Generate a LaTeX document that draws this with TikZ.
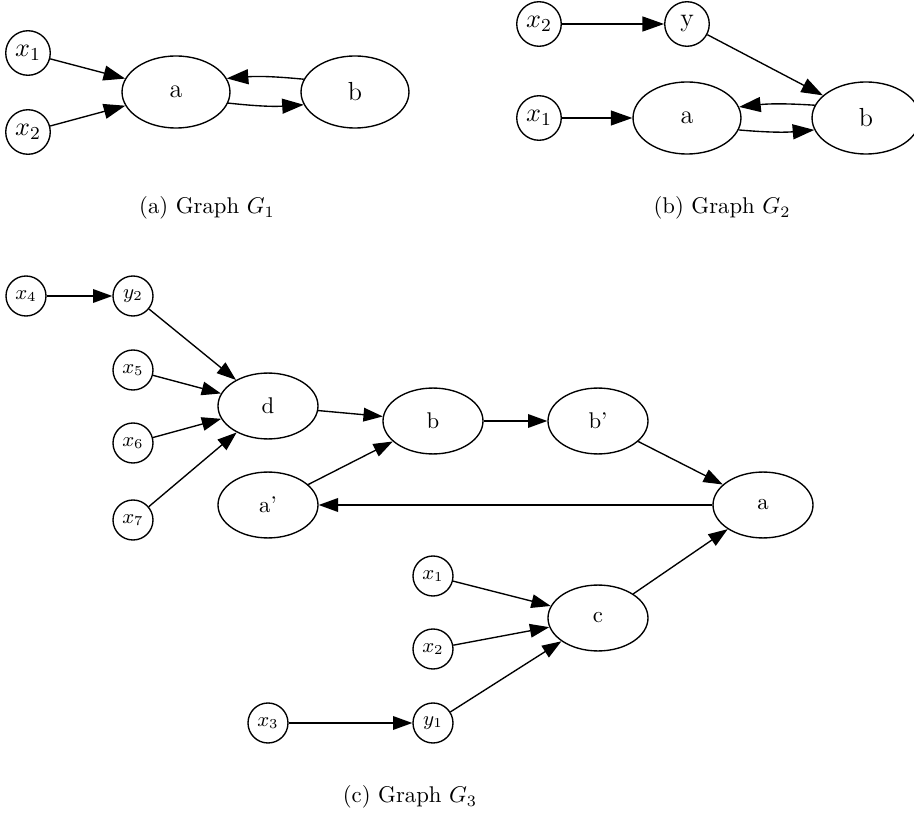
\documentclass[tikz,border=0pt]{standalone}
\usepackage{fix-cm}
\usepackage{fontspec}
\usetikzlibrary{arrows.meta,shapes.geometric}
\begin{document}
\begin{tikzpicture}[x=0.44pt,y=-0.44pt, line width=0.6pt,
  >={Triangle[length=8.5pt,width=6pt]},
  bigarrow/.style={-{Triangle[length=9.5pt,width=6.6pt]}},
  bigc/.style={circle,draw,minimum size=19.6pt,inner sep=0pt,font=\fontsize{11.5}{13}\selectfont},
  bige/.style={ellipse,draw,minimum width=47.5pt,minimum height=31.7pt,inner sep=0pt,font=\fontsize{11.5}{13}\selectfont},
  smc/.style={circle,draw,minimum size=17.6pt,inner sep=0pt,font=\fontsize{9}{11}\selectfont},
  sme/.style={ellipse,draw,minimum width=44pt,minimum height=29pt,inner sep=0pt,font=\fontsize{10}{12}\selectfont},
  captext/.style={font=\fontsize{10}{12}\selectfont}]
\useasboundingbox (0,0) rectangle (914,815);
% ---------- G1 ----------
\node[bigc] (g1x1) at (28,53) {$x_1$};
\node[bigc] (g1x2) at (28,132) {$x_2$};
\node[bige] (g1a) at (176,92) {a};
\node[bige] (g1b) at (355,92) {b};
\draw[bigarrow] (g1x1) -- (g1a);
\draw[bigarrow] (g1x2) -- (g1a);
\draw[bigarrow] (g1b.166) to[bend right=5] (g1a.15);
\draw[bigarrow] (g1a.-12) to[bend right=5] (g1b.194);
\node[captext] (capa) at (207,208) {(a) Graph $G_1$};
% ---------- G2 ----------
\node[bigc] (g2x2) at (539,24) {$x_2$};
\node[bigc] (g2y) at (687,24) {y};
\node[bigc] (g2x1) at (539,118) {$x_1$};
\node[bige] (g2a) at (687,118) {a};
\node[bige] (g2b) at (866,118) {b};
\draw[bigarrow] (g2x2) -- (g2y);
\draw[bigarrow] (g2y) -- (g2b);
\draw[bigarrow] (g2x1) -- (g2a);
\draw[bigarrow] (g2b.166) to[bend right=5] (g2a.12);
\draw[bigarrow] (g2a.-13) to[bend right=5] (g2b.193);
\node[captext] (capb) at (722,208) {(b) Graph $G_2$};
% ---------- G3 ----------
\node[smc] (x4) at (26,296) {$x_4$};
\node[smc] (y2) at (133,296) {$y_2$};
\node[smc] (x5) at (133,370) {$x_5$};
\node[smc] (x6) at (133,443) {$x_6$};
\node[smc] (x7) at (133,520) {$x_7$};
\node[sme] (d) at (268,406) {d};
\node[sme] (ap) at (268,505) {a'};
\node[sme] (b) at (433,421) {b};
\node[sme] (bp) at (598,421) {b'};
\node[sme] (a) at (763,505) {a};
\node[sme] (c) at (598,618) {c};
\node[smc] (x1) at (433,576) {$x_1$};
\node[smc] (x2) at (433,649) {$x_2$};
\node[smc] (x3) at (268,723) {$x_3$};
\node[smc] (y1) at (433,723) {$y_1$};
\draw[->] (x4) -- (y2);
\draw[->] (y2) -- (d);
\draw[->] (x5) -- (d);
\draw[->] (x6) -- (d);
\draw[->] (x7) -- (d);
\draw[->] (d) -- (b);
\draw[->] (ap) -- (b);
\draw[->] (b) -- (bp);
\draw[->] (bp) -- (a);
\draw[->] (a) -- (ap);
\draw[->] (c) -- (a);
\draw[->] (x1) -- (c);
\draw[->] (x2) -- (c);
\draw[->] (y1) -- (c);
\draw[->] (x3) -- (y1);
\node[captext] (capc) at (410,797) {(c) Graph $G_3$};
\end{tikzpicture}
\end{document}
